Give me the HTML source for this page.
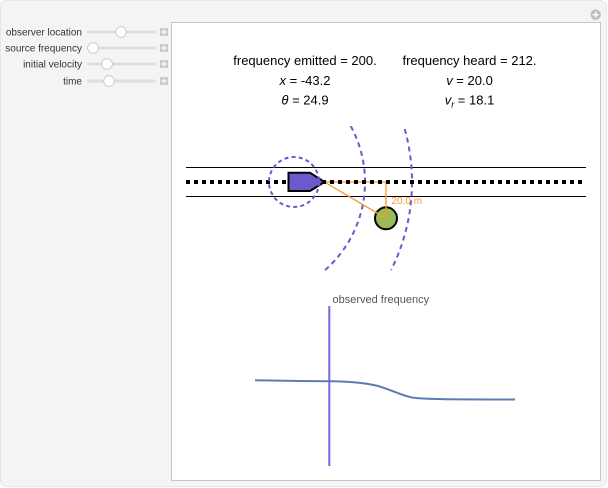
<!DOCTYPE html>
<html>
<head>
<meta charset="utf-8">
<style>
  html,body{margin:0;padding:0;background:#ffffff;}
  svg{display:block;}
  text{font-family:"Liberation Sans",Arial,sans-serif;}
</style>
</head>
<body>
<svg width="608" height="488" viewBox="0 0 608 488" xmlns="http://www.w3.org/2000/svg">
  <defs>
    <clipPath id="plot"><rect x="186" y="126" width="400" height="146"/></clipPath>
  </defs>
  <!-- outer frame -->
  <rect x="0.5" y="0.5" width="606" height="486" rx="6" fill="#f4f4f4" stroke="#e6e6e6"/>
  <!-- top-right circle plus -->
  <circle cx="595.7" cy="14.7" r="5.2" fill="#bdbdbd"/>
  <rect x="592.7" y="14" width="6" height="1.5" fill="#fff"/>
  <rect x="595" y="11.7" width="1.5" height="6" fill="#fff"/>

  <!-- sliders -->
  <g font-size="10" fill="#333" text-anchor="end">
    <text x="82" y="35.5">observer location</text>
    <text x="82" y="51.5">source frequency</text>
    <text x="82" y="67.5">initial velocity</text>
    <text x="82" y="84.5">time</text>
  </g>
  <g fill="#dedede">
    <rect x="87" y="30.5" width="69" height="3" rx="1.5"/>
    <rect x="87" y="46.5" width="69" height="3" rx="1.5"/>
    <rect x="87" y="62.5" width="69" height="3" rx="1.5"/>
    <rect x="87" y="79.5" width="69" height="3" rx="1.5"/>
  </g>
  <g fill="#ffffff" stroke="#c4c4c4" stroke-width="0.8">
    <circle cx="121" cy="32" r="5.3"/>
    <circle cx="93" cy="48" r="5.3"/>
    <circle cx="107" cy="64" r="5.3"/>
    <circle cx="109" cy="81" r="5.3"/>
  </g>
  <g>
    <rect x="160" y="28" width="8" height="8" fill="#cacaca"/>
    <rect x="160" y="44" width="8" height="8" fill="#cacaca"/>
    <rect x="160" y="60" width="8" height="8" fill="#cacaca"/>
    <rect x="160" y="77" width="8" height="8" fill="#cacaca"/>
    <g fill="#fff">
      <rect x="161.5" y="31.4" width="5" height="1.2"/><rect x="163.4" y="29.5" width="1.2" height="5"/>
      <rect x="161.5" y="47.4" width="5" height="1.2"/><rect x="163.4" y="45.5" width="1.2" height="5"/>
      <rect x="161.5" y="63.4" width="5" height="1.2"/><rect x="163.4" y="61.5" width="1.2" height="5"/>
      <rect x="161.5" y="80.4" width="5" height="1.2"/><rect x="163.4" y="78.5" width="1.2" height="5"/>
    </g>
  </g>

  <!-- main panel -->
  <rect x="171.5" y="22.5" width="429" height="458" fill="#ffffff" stroke="#c6c6c6"/>

  <!-- header text -->
  <g font-size="13" fill="#000" text-anchor="middle">
    <text x="305" y="65">frequency emitted = 200.</text>
    <text x="305" y="85"><tspan font-style="italic">x</tspan> = -43.2</text>
    <text x="305" y="104.5"><tspan font-style="italic">θ</tspan> = 24.9</text>
    <text x="469.5" y="65">frequency heard = 212.</text>
    <text x="469.5" y="85"><tspan font-style="italic">v</tspan> = 20.0</text>
    <text x="469.5" y="104.5"><tspan font-style="italic">v</tspan><tspan font-style="italic" font-size="9" dy="3">r</tspan><tspan dy="-3"> = 18.1</tspan></text>
  </g>

  <!-- road -->
  <line x1="186" y1="167.5" x2="586" y2="167.5" stroke="#000" stroke-width="1"/>
  <line x1="186" y1="196.5" x2="586" y2="196.5" stroke="#000" stroke-width="1"/>

  <!-- wave arcs -->
  <g clip-path="url(#plot)" fill="none" stroke="#6a5acd" stroke-width="2" stroke-dasharray="5 4">
    <path d="M350.7 126 A117 117 0 0 1 322.8 272"/>
    <path d="M404.7 129 A196 196 0 0 1 391.1 270"/>
  </g>

  <!-- observer -->
  <circle cx="386" cy="218.3" r="11" fill="#9bbb59" stroke="#000" stroke-width="2"/>

  <!-- orange geometry -->
  <g stroke="#f7992f" stroke-width="1.3" fill="none">
    <polyline points="324.5,182 386,182 386,218.3"/>
    <line x1="324.5" y1="182" x2="386" y2="218.3"/>
  </g>
  <text x="391.5" y="204" font-size="10" fill="#f7992f">20.0 m</text>

  <!-- dotted centre line -->
  <line x1="186" y1="182" x2="586" y2="182" stroke="#000" stroke-width="4" stroke-dasharray="4 4"/>

  <!-- source -->
  <polygon points="288.5,172.7 310,172.7 324.5,182 310,191 288.5,191" fill="#6a5acd" stroke="#000" stroke-width="2" stroke-linejoin="miter"/>
  <circle cx="294" cy="182" r="25" fill="none" stroke="#6a5acd" stroke-width="2" stroke-dasharray="4 3.2"/>

  <!-- bottom plot -->
  <text x="332.5" y="303" font-size="11" fill="#555">observed frequency</text>
  <path d="M255 380.2 L300 381 L329 381.3 C350 381.6 364 382.5 378 386 C392 390 400 395 412 397.5 C424 399.3 445 399.4 515 399.5" fill="none" stroke="#5b7db6" stroke-width="2"/>
  <line x1="329.3" y1="306" x2="329.3" y2="466" stroke="#7467dd" stroke-width="2"/>
</svg>
</body>
</html>
